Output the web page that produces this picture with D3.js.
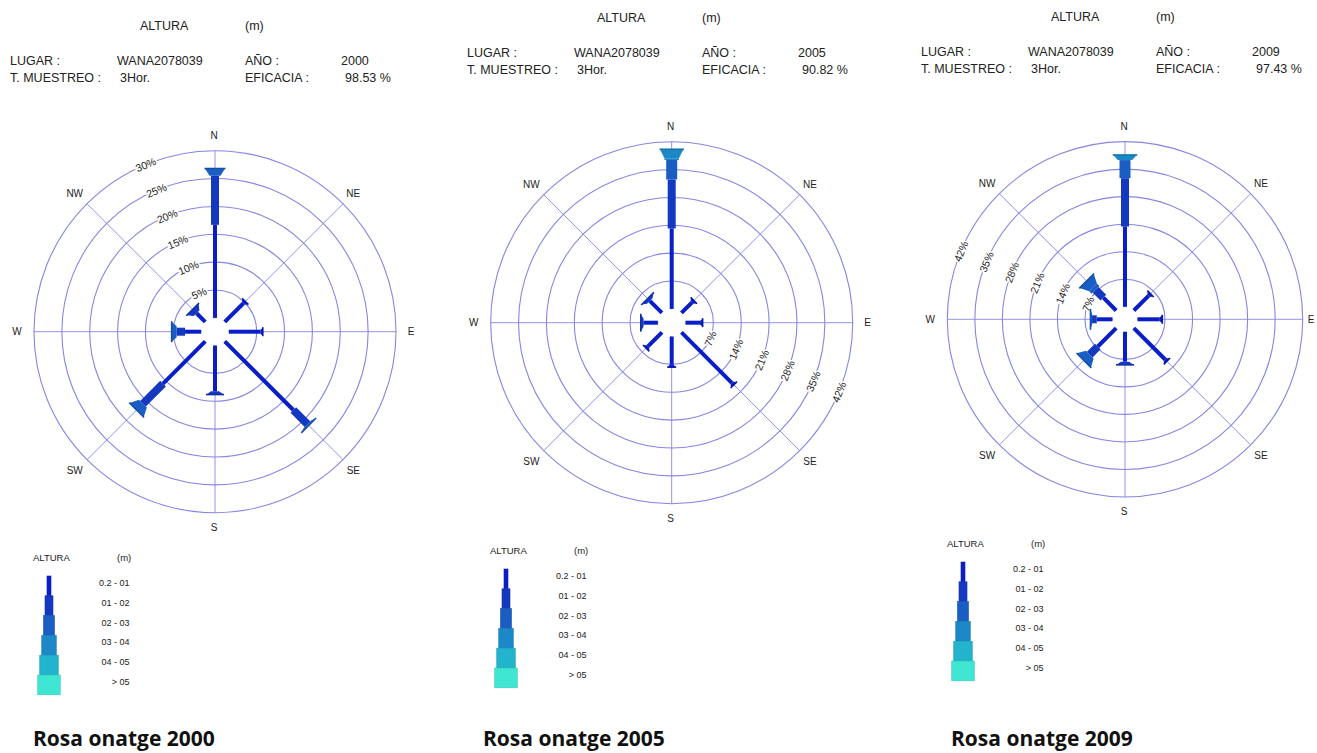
<!DOCTYPE html>
<html><head><meta charset="utf-8">
<script src="https://cdn.jsdelivr.net/npm/d3@7"></script>
<style>body{margin:0;background:#fff} svg{display:block}</style>
</head><body>
<svg id="c" width="1317" height="753"></svg>
<script>
// ---------------- DATA ----------------
const directions = ["N","NE","E","SE","S","SW","W","NW"];
const directionAngles = [0,45,90,135,180,225,270,315];
const classLabels = ["0.2 - 01","01 - 02","02 - 03","03 - 04","04 - 05","> 05"];
const years = ["2000","2005","2009"];
const lugar = "WANA2078039";
const muestreo = "3Hor.";
const eficacia = ["98.53 %","90.82 %","97.43 %"];
const captions = ["Rosa onatge 2000","Rosa onatge 2005","Rosa onatge 2009"];
const ticks2000 = [5,10,15,20,25,30];
const ticks2005 = [7,14,21,28,35,42];
const ticks2009 = [7,14,21,28,35,42];
// % per height class, per direction (N, NE, E, SE, S, SW, W, NW)
const rose2000 = [[16.7,8.8,1.3],[5.2],[6.1],[17.4,3.6,0.3],[8.2,0.6],[10.7,5.1,1.6],[2.9,1.5,0.9],[2.2,1.0]];
const rose2005 = [[20.2,12.3,4.9,2.7],[4.4],[4.3],[18.6],[7.7],[5.6],[3.6,0.7],[4.3,0.8]];
const rose2009 = [[20.4,12.3,4.6,1.3],[6.0],[6.3],[11.9],[7.6,0.8],[6.6,2.9,2.1],[4.0,1.2,0.4],[4.6,2.8,3.2]];

// ---------------- STYLE / LAYOUT ----------------
const classColors = ["#0a1ec8","#1438c0","#1a5ec4","#1c88c8","#22b4cc","#3fe6d2"];
const classWidths = [4,8,11,14.5,18.5,22.5];
const gridColor = "#8686e4";
const panels = [
  {data:rose2000, ticks:ticks2000, cx:215,   cy:331.7, R:181,   hole:13.8, labelAngle:-22.5, hx:0,   hy:0,    lx:33,  ly:557, capX:33},
  {data:rose2005, ticks:ticks2005, cx:671.7, cy:322.7, R:181,   hole:13.8, labelAngle:112.5, hx:457, hy:-8.5, lx:490, ly:550, capX:483},
  {data:rose2009, ticks:ticks2009, cx:1125,  cy:319.3, R:177.7, hole:12.5, labelAngle:-67.5, hx:911, hy:-9,   lx:947, ly:543, capX:951}
];
const svg = d3.select("#c");
const F = "'Liberation Sans', Arial, sans-serif";
const rad = a => a*Math.PI/180;

panels.forEach((p, pi) => {
  // header
  const h = svg.append("g").attr("transform",`translate(${p.hx},${p.hy})`)
    .style("font-family",F).style("font-size","12.5px").attr("fill","#222");
  const hdr = [
    ["ALTURA",140,26],["(m)",245,26],
    ["LUGAR :",10,61],[lugar,117,61],["AÑO :",245,61],[years[pi],341,61],
    ["T. MUESTREO :",10,78],[muestreo,120,78],["EFICACIA :",245,78],[eficacia[pi],345,78]
  ];
  h.selectAll("text").data(hdr).join("text")
    .attr("x",d=>d[1]).attr("y",d=>d[2]).attr("dominant-baseline","central").text(d=>d[0]);

  // rose
  const maxT = d3.max(p.ticks);
  const r = d3.scaleLinear().domain([0,maxT]).range([p.hole,p.R]);
  const g = svg.append("g").attr("transform",`translate(${p.cx},${p.cy})`);
  // spokes
  g.selectAll("line.spoke").data(directionAngles).join("line").attr("class","spoke")
    .attr("x1",0).attr("y1",0)
    .attr("x2",a=>Math.sin(rad(a))*p.R).attr("y2",a=>-Math.cos(rad(a))*p.R)
    .attr("stroke",gridColor).attr("stroke-width",0.9);
  // rings
  g.selectAll("circle.ring").data(p.ticks).join("circle").attr("class","ring")
    .attr("r",t=>r(t)).attr("fill","none").attr("stroke",gridColor).attr("stroke-width",1.1);
  // ring labels
  const la = p.labelAngle;
  const rot = Math.abs(la) <= 90 ? la : la - 180;
  g.selectAll("text.tick").data(p.ticks).join("text").attr("class","tick")
    .attr("transform",t=>`translate(${Math.sin(rad(la))*r(t)},${-Math.cos(rad(la))*r(t)}) rotate(${rot})`)
    .attr("text-anchor","middle").attr("dominant-baseline","central")
    .style("font-family",F).style("font-size","10.5px").attr("fill","#222")
    .attr("stroke","#fff").attr("stroke-width",3).attr("paint-order","stroke")
    .text(t=>t+"%");
  // direction labels
  g.selectAll("text.dir").data(directions).join("text").attr("class","dir")
    .attr("x",(d,i)=>Math.min(Math.sin(rad(directionAngles[i]))*(p.R+16)-1, 1311-p.cx))
    .attr("y",(d,i)=>-Math.cos(rad(directionAngles[i]))*(p.R+15))
    .attr("text-anchor","middle").attr("dominant-baseline","central")
    .style("font-family",F).style("font-size","10px").attr("fill","#222")
    .text(d=>d);
  // bars
  p.data.forEach((vals, di) => {
    const bg = g.append("g").attr("transform",`rotate(${directionAngles[di]})`);
    let cum = 0;
    const segs = vals.map((v,k)=>{const s={k, r0:r(cum), r1:r(cum+v)}; cum+=v; return s;});
    segs.forEach((s, idx) => {
      const w = classWidths[s.k];
      const last = idx === segs.length-1;
      if (!last) {
        bg.append("rect").attr("x",-w/2).attr("y",-s.r1).attr("width",w).attr("height",s.r1-s.r0)
          .attr("fill",classColors[s.k]);
      } else {
        const L = Math.min(s.r1-s.r0, s.k===0 ? 2.5 : 9);
        const rb = s.r1 - L;
        if (rb > s.r0) bg.append("rect").attr("x",-w/2).attr("y",-rb).attr("width",w).attr("height",rb-s.r0)
          .attr("fill",classColors[s.k]);
        const wo = w + (s.k===0 ? 4 : 9);
        bg.append("path")
          .attr("d",`M${-w/2},${-rb} L${w/2},${-rb} L${wo/2},${-s.r1} L${-wo/2},${-s.r1} Z`)
          .attr("fill",classColors[s.k]);
        bg.append("line").attr("x1",-wo/2-0.5).attr("x2",wo/2+0.5).attr("y1",-s.r1).attr("y2",-s.r1)
          .attr("stroke",d3.color(classColors[s.k]).darker(0.5)).attr("stroke-width",1.6);
      }
    });
  });
  // hole
  g.append("circle").attr("r",p.hole-0.5).attr("fill","#fff");

  // legend
  const lg = svg.append("g").attr("transform",`translate(${p.lx},${p.ly})`)
    .style("font-family",F).attr("fill","#222");
  lg.append("text").attr("x",0).attr("y",0).attr("dominant-baseline","central").style("font-size","9.5px").text("ALTURA");
  lg.append("text").attr("x",84).attr("y",0).attr("dominant-baseline","central").style("font-size","9.5px").text("(m)");
  const bh = 19.8;
  lg.selectAll("rect.lb").data(classLabels).join("rect").attr("class","lb")
    .attr("x",(d,i)=>16-classWidths[i]/2).attr("y",(d,i)=>19+i*bh)
    .attr("width",(d,i)=>classWidths[i]).attr("height",bh)
    .attr("fill",(d,i)=>classColors[i]).attr("stroke",(d,i)=>d3.color(classColors[i]).darker(0.4)).attr("stroke-width",0.6);
  lg.selectAll("text.ll").data(classLabels).join("text").attr("class","ll")
    .attr("x",96.5).attr("y",(d,i)=>26+i*bh).attr("text-anchor","end").attr("dominant-baseline","central")
    .style("font-size","9px").text(d=>d);

  // caption
  svg.append("text").attr("x",p.capX).attr("y",746)
    .style("font-family","'Open Sans', sans-serif").style("font-size","21px").style("font-weight","bold")
    .attr("fill","#111").text(captions[pi]);
});
</script>
</body></html>
